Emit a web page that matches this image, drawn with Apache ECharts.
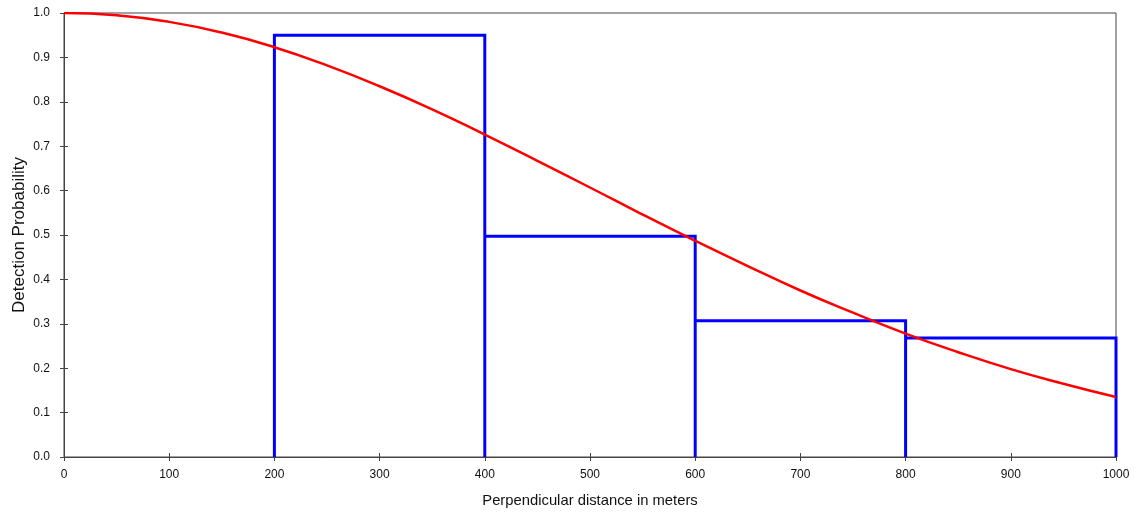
<!DOCTYPE html>
<html><head><meta charset="utf-8">
<script src="https://cdn.jsdelivr.net/npm/echarts@6/dist/echarts.min.js"></script>
<style>html,body{margin:0;padding:0;background:#fff}#c{width:1138px;height:514px}</style>
</head><body><div id="c"></div>
<script>
// Histogram bins (meters) and heights
var binEdges = [200, 400, 600, 800, 1000];
var binHeights = [0.95, 0.497, 0.307, 0.268];
// Fitted detection curve, read at 50 m steps
var curveX = [0,50,100,150,200,250,300,350,400,450,500,550,600,650,700,750,800,850,900,950,1000];
var curveY = [1.0,0.995,0.980,0.956,0.923,0.882,0.835,0.783,0.726,0.667,0.607,0.546,0.487,0.430,0.375,0.325,0.278,0.236,0.198,0.165,0.135];
var xTitle = 'Perpendicular distance in meters';
var yTitle = 'Detection Probability';

var outline = [[binEdges[0], 0]];
for (var i = 0; i < binHeights.length; i++) {
  if (i > 0) outline.push([binEdges[i], 0]);
  outline.push([binEdges[i], binHeights[i]]);
  outline.push([binEdges[i+1], binHeights[i]]);
  outline.push([binEdges[i+1], 0]);
}
var curve = curveX.map(function (x, i) { return [x, curveY[i]]; });

var font = 'Liberation Sans, Arial, sans-serif';
var axisCol = '#444';
var chart = echarts.init(document.getElementById('c'), null, { renderer: 'canvas' });
chart.setOption({
  animation: false,
  grid: { left: 64, right: 22, top: 13, bottom: 57, outerBoundsMode: 'none', containLabel: false,
          show: true, borderColor: axisCol, borderWidth: 1, backgroundColor: 'transparent' },
  xAxis: [{
    type: 'value', min: 0, max: 1000, interval: 100,
    name: xTitle, nameLocation: 'middle', nameGap: 36, nameMoveOverlap: false,
    nameTextStyle: { color: '#111', fontSize: 14.8, fontFamily: font },
    axisLine: { lineStyle: { color: axisCol, width: 1 } },
    axisTick: { show: false },
    axisLabel: { margin: 12, color: '#111', fontSize: 12, fontFamily: font, formatter: function (v) { return String(v); } },
    splitLine: { show: false }
  }, {
    type: 'value', min: 0, max: 1000, interval: 100, position: 'bottom', offset: -4,
    axisLine: { show: false },
    axisTick: { show: true, inside: false, length: 8, lineStyle: { color: axisCol } },
    axisLabel: { show: false }, splitLine: { show: false }
  }],
  yAxis: [{
    type: 'value', min: 0, max: 1, interval: 0.1,
    name: yTitle, nameLocation: 'middle', nameGap: 36, nameRotate: 90, nameMoveOverlap: false,
    nameTextStyle: { color: '#111', fontSize: 17, fontFamily: font },
    axisLine: { show: true, lineStyle: { color: axisCol, width: 1 } },
    axisTick: { show: false },
    axisLabel: { margin: 14, color: '#111', fontSize: 12, fontFamily: font, formatter: function (v) { return v.toFixed(1); } },
    splitLine: { show: false }
  }, {
    type: 'value', min: 0, max: 1, interval: 0.1, position: 'left', offset: -4,
    axisLine: { show: false },
    axisTick: { show: true, inside: false, length: 8, lineStyle: { color: axisCol } },
    axisLabel: { show: false }, splitLine: { show: false }
  }],
  series: [{
    type: 'line', data: outline, symbol: 'none',
    lineStyle: { color: '#0000ff', width: 3, join: 'miter' }, z: 2
  }, {
    type: 'line', data: curve, symbol: 'none', smooth: true,
    lineStyle: { color: '#ff0000', width: 2.5 }, z: 3
  }]
});
</script></body></html>
